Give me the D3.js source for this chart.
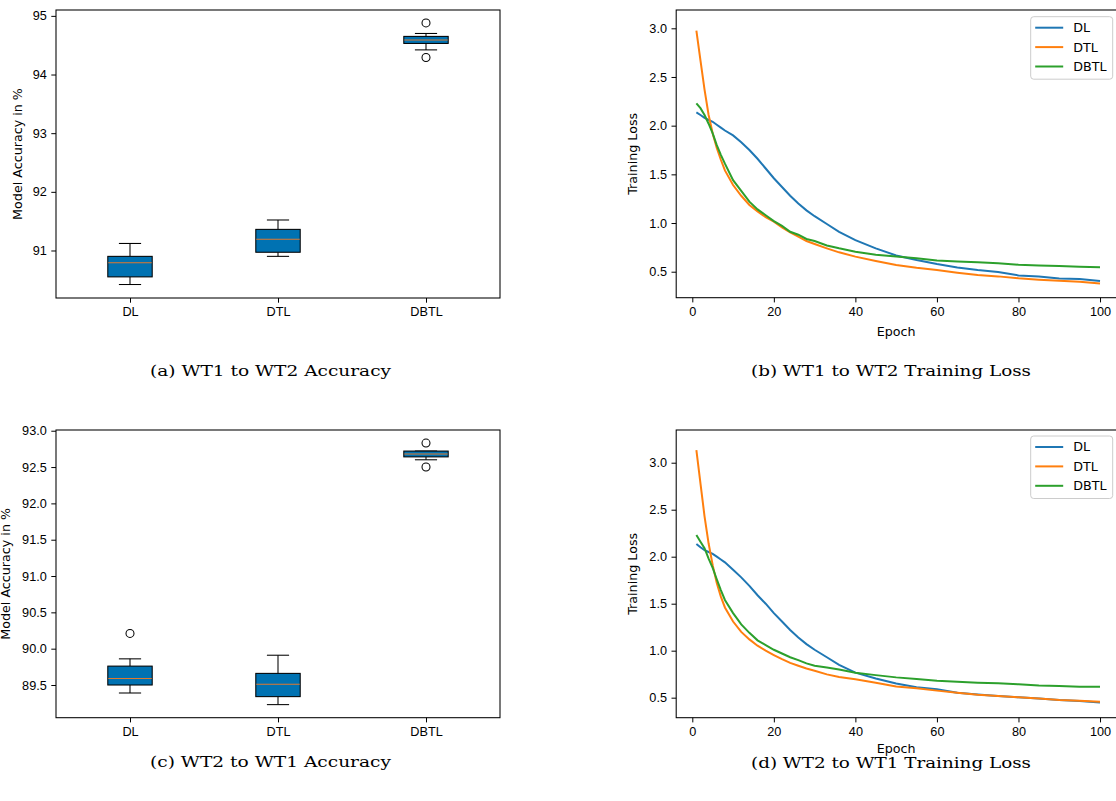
<!DOCTYPE html>
<html>
<head>
<meta charset="utf-8">
<script src="https://cdn.jsdelivr.net/npm/d3@7"></script>
<style>
  body { margin: 0; background: #fff; }
  svg { display: block; font-family: "DejaVu Sans", sans-serif; }
  .tick text { font-size: 12.7px; fill: #000; }
  .tick line { stroke: #000; }
  .domain { display: none; }
  .caption { font-family: "DejaVu Serif", serif; font-size: 15px; fill: #000; }
  .axis-label { font-size: 12.7px; fill: #000; }
</style>
</head>
<body>
<svg id="chart"></svg>
<script>
// ---- data ----
const categories = ['DL', 'DTL', 'DBTL'];

// (a) WT1 to WT2 accuracy box stats
const accA_low = [90.42, 90.90, 94.42];
const accA_q1 = [90.55, 90.97, 94.53];
const accA_med = [90.79, 91.19, 94.59];
const accA_q3 = [90.90, 91.36, 94.65];
const accA_high = [91.12, 91.52, 94.70];
const accA_out = [[], [], [94.88, 94.29]];

// (c) WT2 to WT1 accuracy box stats
const accC_low = [89.39, 89.23, 92.60];
const accC_q1 = [89.50, 89.34, 92.64];
const accC_med = [89.59, 89.51, 92.68];
const accC_q3 = [89.76, 89.66, 92.72];
const accC_high = [89.86, 89.91, 92.72];
const accC_out = [[90.21], [], [92.83, 92.50]];

const accTicksA = [91, 92, 93, 94, 95];
const accTicksC = [89.5, 90.0, 90.5, 91.0, 91.5, 92.0, 92.5, 93.0];
const lossTicks = [0.5, 1.0, 1.5, 2.0, 2.5, 3.0];
const epochTicks = [0, 20, 40, 60, 80, 100];

const seriesNames = ['DL', 'DTL', 'DBTL'];
const epochs = [1, 2, 3, 4, 5, 6, 7, 8, 10, 12, 14, 16, 18, 20, 22, 24, 26, 28, 30, 33, 36, 40, 45, 50, 55, 60, 65, 70, 75, 80, 85, 90, 95, 100];

// (b) WT1 to WT2 training loss
const lossB_DL = [2.137, 2.11, 2.08, 2.06, 2.04, 2.01, 1.98, 1.95, 1.90, 1.83, 1.75, 1.66, 1.56, 1.46, 1.37, 1.28, 1.20, 1.13, 1.07, 0.99, 0.91, 0.825, 0.74, 0.667, 0.62, 0.579, 0.544, 0.517, 0.497, 0.462, 0.45, 0.43, 0.425, 0.404];
const lossB_DTL = [2.976, 2.67, 2.37, 2.11, 1.92, 1.77, 1.65, 1.54, 1.39, 1.28, 1.185, 1.12, 1.06, 1.014, 0.956, 0.904, 0.86, 0.815, 0.784, 0.74, 0.699, 0.655, 0.61, 0.568, 0.54, 0.517, 0.49, 0.466, 0.452, 0.432, 0.418, 0.408, 0.397, 0.38];
const lossB_DBTL = [2.23, 2.18, 2.11, 2.02, 1.92, 1.80, 1.70, 1.61, 1.44, 1.33, 1.22, 1.14, 1.08, 1.02, 0.97, 0.91, 0.88, 0.836, 0.815, 0.77, 0.74, 0.705, 0.675, 0.655, 0.637, 0.616, 0.606, 0.596, 0.586, 0.572, 0.565, 0.558, 0.551, 0.545];

// (d) WT2 to WT1 training loss
const lossD_DL = [2.135, 2.10, 2.07, 2.05, 2.03, 2.00, 1.97, 1.94, 1.86, 1.78, 1.69, 1.59, 1.50, 1.40, 1.31, 1.22, 1.14, 1.07, 1.01, 0.93, 0.85, 0.766, 0.705, 0.65, 0.61, 0.59, 0.553, 0.535, 0.518, 0.504, 0.49, 0.475, 0.465, 0.45];
const lossD_DTL = [3.135, 2.78, 2.43, 2.14, 1.91, 1.72, 1.575, 1.46, 1.31, 1.20, 1.12, 1.053, 1.00, 0.954, 0.91, 0.87, 0.84, 0.81, 0.787, 0.748, 0.72, 0.695, 0.66, 0.62, 0.60, 0.575, 0.553, 0.532, 0.518, 0.504, 0.49, 0.475, 0.468, 0.457];
const lossD_DBTL = [2.23, 2.16, 2.09, 1.98, 1.88, 1.76, 1.645, 1.54, 1.40, 1.28, 1.19, 1.11, 1.06, 1.01, 0.97, 0.93, 0.90, 0.865, 0.84, 0.82, 0.80, 0.766, 0.74, 0.716, 0.70, 0.68, 0.67, 0.66, 0.653, 0.642, 0.63, 0.624, 0.617, 0.617];

const lineColors = ['#1f77b4', '#ff7f0e', '#2ca02c'];
const boxFill = '#0072b2';
const medianColor = '#e0782c';

const svg = d3.select('#chart').attr('width', 1116).attr('height', 801);

function frame(g, w, h) {
  g.append('rect').attr('x', 0).attr('y', 0).attr('width', w).attr('height', h)
    .attr('fill', 'none').attr('stroke', '#000').attr('stroke-width', 1.05);
}

function boxPanel(cfg) {
  const w = cfg.right - cfg.left, h = cfg.bottom - cfg.top;
  const g = svg.append('g').attr('transform', `translate(${cfg.left},${cfg.top})`);
  const x = d3.scaleLinear().domain([0.5, 3.5]).range([0, w]);
  const y = d3.scaleLinear().domain(cfg.yDomain).range([h, 0]);

  g.append('g').attr('transform', `translate(0,${h})`)
    .call(d3.axisBottom(x).tickValues([1, 2, 3]).tickFormat((d, i) => categories[i]).tickSizeInner(4.7).tickSizeOuter(0).tickPadding(4.5));
  g.append('g')
    .call(d3.axisLeft(y).tickValues(cfg.ticks).tickFormat(d3.format(cfg.fmt)).tickSizeInner(4.7).tickSizeOuter(0).tickPadding(4.5));

  const bw = x(1.15) - x(0.85);
  const cw = bw / 2;
  const rows = categories.map((c, i) => ({
    pos: i + 1, low: cfg.low[i], q1: cfg.q1[i], med: cfg.med[i], q3: cfg.q3[i], high: cfg.high[i], out: cfg.out[i]
  }));
  const b = g.selectAll('.box').data(rows).join('g').attr('class', 'box');
  // whiskers
  b.append('line').attr('x1', d => x(d.pos)).attr('x2', d => x(d.pos))
    .attr('y1', d => y(d.q3)).attr('y2', d => y(d.high)).attr('stroke', '#000').attr('stroke-width', 1.05);
  b.append('line').attr('x1', d => x(d.pos)).attr('x2', d => x(d.pos))
    .attr('y1', d => y(d.q1)).attr('y2', d => y(d.low)).attr('stroke', '#000').attr('stroke-width', 1.05);
  b.append('line').attr('x1', d => x(d.pos) - cw / 2).attr('x2', d => x(d.pos) + cw / 2)
    .attr('y1', d => y(d.high)).attr('y2', d => y(d.high)).attr('stroke', '#000').attr('stroke-width', 1.05);
  b.append('line').attr('x1', d => x(d.pos) - cw / 2).attr('x2', d => x(d.pos) + cw / 2)
    .attr('y1', d => y(d.low)).attr('y2', d => y(d.low)).attr('stroke', '#000').attr('stroke-width', 1.05);
  // box + median
  b.append('rect').attr('x', d => x(d.pos) - bw / 2).attr('width', bw)
    .attr('y', d => y(d.q3)).attr('height', d => y(d.q1) - y(d.q3))
    .attr('fill', boxFill).attr('stroke', '#000').attr('stroke-width', 1.05);
  b.append('line').attr('x1', d => x(d.pos) - bw / 2 + 0.5).attr('x2', d => x(d.pos) + bw / 2 - 0.5)
    .attr('y1', d => y(d.med)).attr('y2', d => y(d.med)).attr('stroke', medianColor).attr('stroke-width', 1.05);
  // fliers
  b.selectAll('circle').data(d => d.out.map(v => ({ pos: d.pos, v }))).join('circle')
    .attr('cx', d => x(d.pos)).attr('cy', d => y(d.v)).attr('r', 4)
    .attr('fill', 'none').attr('stroke', '#000').attr('stroke-width', 1.05);

  frame(g, w, h);

  g.append('text').attr('class', 'axis-label')
    .attr('transform', `translate(${cfg.ylabelX - cfg.left},${h / 2}) rotate(-90)`)
    .attr('text-anchor', 'middle').attr('dy', '0.35em').text('Model Accuracy in %');

  svg.append('text').attr('class', 'caption').attr('x', cfg.capX).attr('y', cfg.capY)
    .attr('text-anchor', 'middle').attr('textLength', cfg.capW).attr('lengthAdjust', 'spacingAndGlyphs')
    .text(cfg.caption);
}

function linePanel(cfg) {
  const w = cfg.right - cfg.left, h = cfg.bottom - cfg.top;
  const g = svg.append('g').attr('transform', `translate(${cfg.left},${cfg.top})`);
  const x = d3.scaleLinear().domain([-3.95, 104.95]).range([0, w]);
  const y = d3.scaleLinear().domain(cfg.yDomain).range([h, 0]);

  g.append('g').attr('transform', `translate(0,${h})`)
    .call(d3.axisBottom(x).tickValues(epochTicks).tickFormat(d3.format('d')).tickSizeInner(4.7).tickSizeOuter(0).tickPadding(4.5));
  g.append('g')
    .call(d3.axisLeft(y).tickValues(lossTicks).tickFormat(d3.format('.1f')).tickSizeInner(4.7).tickSizeOuter(0).tickPadding(4.5));

  const line = d3.line().x((d, i) => x(epochs[i])).y(d => y(d));
  g.selectAll('.series').data(cfg.series).join('path').attr('class', 'series')
    .attr('d', d => line(d)).attr('fill', 'none')
    .attr('stroke', (d, i) => lineColors[i]).attr('stroke-width', 2);

  frame(g, w, h);

  // legend
  const lg = g.append('g').attr('transform', `translate(${cfg.legX - cfg.left},${cfg.legY - cfg.top})`);
  lg.append('rect').attr('x', 0).attr('y', 0).attr('width', 82).attr('height', 62.5).attr('rx', 3)
    .attr('fill', '#fff').attr('fill-opacity', 0.8).attr('stroke', '#ccc').attr('stroke-width', 1);
  seriesNames.forEach((s, i) => {
    const yy = 11 + i * 19.4;
    lg.append('line').attr('x1', 4.5).attr('x2', 32.5).attr('y1', yy).attr('y2', yy)
      .attr('stroke', lineColors[i]).attr('stroke-width', 2);
    lg.append('text').attr('x', 42.5).attr('y', yy).attr('dy', '0.35em')
      .style('font-size', '12.7px').text(s);
  });

  g.append('text').attr('class', 'axis-label').attr('x', x(50)).attr('y', h + cfg.epochDy)
    .attr('text-anchor', 'middle').text('Epoch');
  g.append('text').attr('class', 'axis-label')
    .attr('transform', `translate(${cfg.ylabelX - cfg.left},${h / 2}) rotate(-90)`)
    .attr('text-anchor', 'middle').attr('dy', '0.35em').text('Training Loss');

  svg.append('text').attr('class', 'caption').attr('x', cfg.capX).attr('y', cfg.capY)
    .attr('text-anchor', 'middle').attr('textLength', cfg.capW).attr('lengthAdjust', 'spacingAndGlyphs')
    .text(cfg.caption);
}

boxPanel({
  left: 56, right: 500, top: 10, bottom: 298, yDomain: [90.19, 95.10], ticks: accTicksA, fmt: 'd',
  low: accA_low, q1: accA_q1, med: accA_med, q3: accA_q3, high: accA_high, out: accA_out,
  ylabelX: 18, caption: '(a) WT1 to WT2 Accuracy', capX: 270.5, capY: 375.5, capW: 241
});
linePanel({
  left: 676.2, right: 1120.2, top: 10, bottom: 297.7, yDomain: [0.233, 3.188],
  series: [lossB_DL, lossB_DTL, lossB_DBTL], legX: 1030.7, legY: 16.7, epochDy: 38,
  ylabelX: 633, caption: '(b) WT1 to WT2 Training Loss', capX: 891, capY: 375.5, capW: 280
});
boxPanel({
  left: 56, right: 500, top: 430, bottom: 717.7, yDomain: [89.05, 93.01], ticks: accTicksC, fmt: '.1f',
  low: accC_low, q1: accC_q1, med: accC_med, q3: accC_q3, high: accC_high, out: accC_out,
  ylabelX: 5.8, caption: '(c) WT2 to WT1 Accuracy', capX: 270.5, capY: 767, capW: 241
});
linePanel({
  left: 676.2, right: 1120.2, top: 430, bottom: 717.7, yDomain: [0.287, 3.348],
  series: [lossD_DL, lossD_DTL, lossD_DBTL], legX: 1030.7, legY: 436, epochDy: 35.5,
  ylabelX: 633, caption: '(d) WT2 to WT1 Training Loss', capX: 891, capY: 767.5, capW: 280
});
</script>
</body>
</html>
